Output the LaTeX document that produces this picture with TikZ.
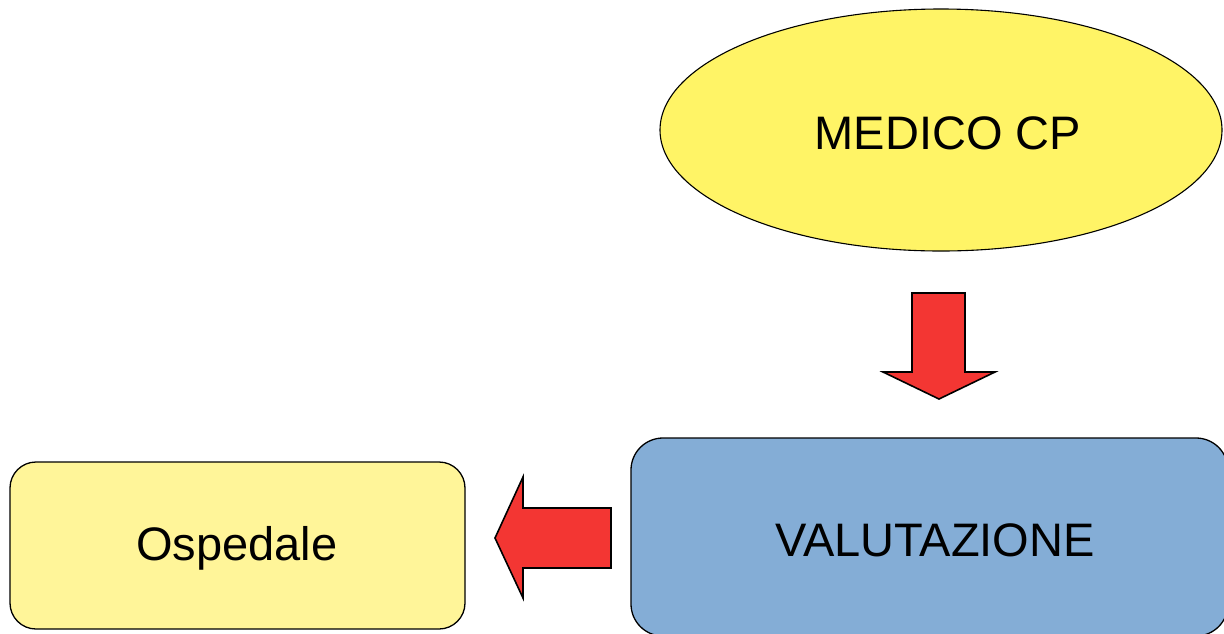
\documentclass[tikz,border=0pt]{standalone}
\usepackage{fontspec}
\setmainfont{Liberation Sans}
\definecolor{ellfill}{HTML}{FFF466}
\definecolor{hospfill}{HTML}{FFF599}
\definecolor{evalfill}{HTML}{84ADD6}
\definecolor{arrowred}{HTML}{F33633}
\tikzset{
  x=1pt, y=-1pt,
  label text/.style={font=\fontsize{47}{56}\selectfont, text=black},
  blockarrow/.style={fill=arrowred, draw=black, line width=1.6pt, line join=miter},
  roundbox/.style={draw=black, line width=1.3pt, rounded corners=#1, label text}
}
\begin{document}
\begin{tikzpicture}
\useasboundingbox (0,0) rectangle (1224,633);

% starting point: the palliative care doctor
\draw[fill=ellfill, line width=1.1pt] (941,130) ellipse [x radius=281, y radius=121];
\node[label text] (medico) at (948,133) {MEDICO CP};

% assessment step
\draw[roundbox=32, fill=evalfill] (631,438) rectangle (1228,636);
\node[label text] (valutazione) at (935,540) {VALUTAZIONE};

% hospital outcome
\draw[roundbox=26, fill=hospfill] (10,462) rectangle (465,629);
\node[label text] (ospedale) at (237,548) {Ospedale};

% block arrow down: doctor -> assessment
\draw[blockarrow] (912,293) -- (965,293) -- (965,372) -- (995,372) -- (939,399)
  -- (883,372) -- (912,372) -- cycle;

% block arrow left: assessment -> hospital
\draw[blockarrow] (611,508) -- (611,568) -- (523,568) -- (523,598) -- (495,538)
  -- (523,477) -- (523,508) -- cycle;
\end{tikzpicture}
\end{document}
